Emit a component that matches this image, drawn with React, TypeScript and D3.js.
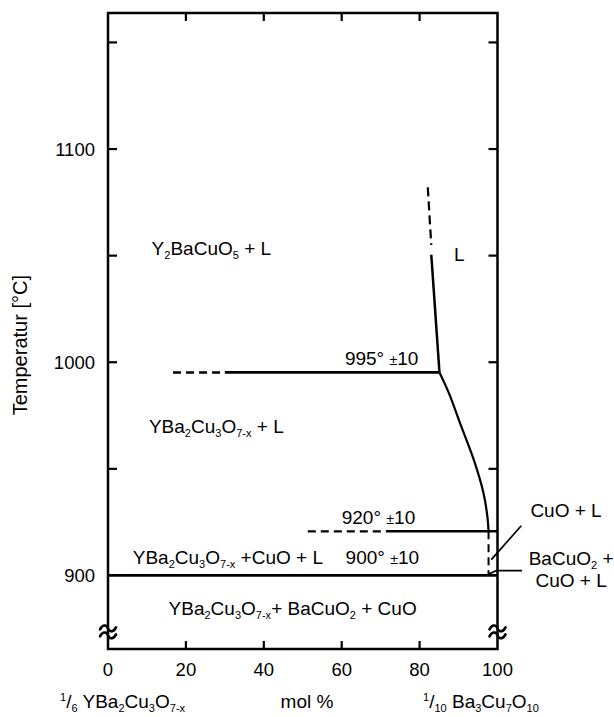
import React, { useEffect } from 'react'
import * as d3 from 'd3'

const width = 614
const height = 717
const margin = { top: 13, right: 116.5, bottom: 68, left: 108 }
const font = 'Liberation Sans, Arial, sans-serif'

// axis
const xTicks = [0, 20, 40, 60, 80, 100]
const innerXTicks = [20, 40, 60, 80]
const yTicks = [950, 1000, 1050, 1100, 1150]
const yTickLabels = [900, 1000, 1100]
const breakAt = 873.5

// phase boundaries (mol %, °C)
const liquidusDashed = [[82.1, 1082], [83.0, 1055]]
const liquidusSolid = [[83.0, 1050.4], [85.1, 995.2]]
const liquidusCurve = [
    [85.1, 995.2], [87.5, 985.6], [90.7, 969.9], [93.9, 954.3],
    [96.4, 938.7], [97.4, 927.7], [97.7, 920.7],
]
const iso995Dashed = [[16.7, 995.2], [30, 995.2]]
const iso995 = [[30, 995.2], [85.1, 995.2]]
const iso920Dashed = [[51.3, 920.7], [71.4, 920.7]]
const iso920 = [[71.4, 920.7], [100, 920.7]]
const iso900 = [[0, 900], [100, 900]]
const eutecticDashed = [[97.7, 920.7], [97.7, 900]]
const leaderCuO = [[106.1, 923.3], [98.4, 907.4]]
const leaderBaCuO2 = [[106.3, 902.3], [99.7, 902.3], [97.5, 900.4]]

// labels: text, x (mol %), T (°C), anchor
const labels = [
    ['Y_{2}BaCuO_{5} + L', 11.2, 1050.4, 'start'],
    ['L', 88.8, 1047.6, 'start'],
    ['995° ~{±}10', 79.7, 998.7, 'end'],
    ['YBa_{2}Cu_{3}O_{7-x} + L', 10.5, 966.8, 'start'],
    ['920° ~{±}10', 60.0, 924.2, 'start'],
    ['YBa_{2}Cu_{3}O_{7-x} +CuO + L', 55.2, 905.4, 'end'],
    ['900° ~{±}10', 61.0, 905.4, 'start'],
    ['YBa_{2}Cu_{3}O_{7-x}+ BaCuO_{2} + CuO', 47.4, 881.5, 'middle'],
    ['CuO + L', 117.6, 927.4, 'middle'],
    ['BaCuO_{2} +', 118.9, 904.8, 'middle'],
    ['CuO + L', 118.9, 894.4, 'middle'],
]

function parse(s) {
    const parts = []
    const re = /([_^~])\{([^}]*)\}/g
    let last = 0
    let m
    while ((m = re.exec(s))) {
        if (m.index > last) parts.push({ t: s.slice(last, m.index), k: '' })
        parts.push({ t: m[2], k: m[1] })
        last = re.lastIndex
    }
    if (last < s.length) parts.push({ t: s.slice(last), k: '' })
    return parts
}

function Rich({ text, ...props }) {
    let shift = 0
    return (
        <text fontFamily={font} fontSize={19} fill="#000" {...props}>
            {parse(text).map((p, i) => {
                const target = p.k === '_' ? 4 : p.k === '^' ? -7 : 0
                const dy = target - shift
                shift = target
                const size = p.k === '_' || p.k === '^' ? '0.58em' : p.k === '~' ? '0.75em' : undefined
                return (
                    <tspan key={i} dy={dy} fontSize={size}>
                        {p.t}
                    </tspan>
                )
            })}
        </text>
    )
}

// wavy "≈" break mark centered at (cx, cy)
function BreakMark({ cx, cy }) {
    const tilde = dy => `M${cx - 8},${cy + dy + 1} C${cx - 5},${cy + dy - 5} ${cx - 1},${cy + dy - 3} ${cx},${cy + dy} S${cx + 5},${cy + dy + 5} ${cx + 8},${cy + dy - 1}`
    return (
        <g fill="none" stroke="#000" strokeWidth={2.6} strokeLinecap="round">
            <path d={tilde(-3.5)} />
            <path d={tilde(3.5)} />
        </g>
    )
}

function App() {
    useEffect(() => {
        document.body.style.margin = '0'
    }, [])

    const x = d3.scaleLinear().domain([0, 100]).range([margin.left, width - margin.right])
    const y = d3.scaleLinear().domain([865.5, 1163.8]).range([height - margin.bottom, margin.top])
    const line = d3.line().x(d => x(d[0])).y(d => y(d[1]))
    const curve = d3.line().x(d => x(d[0])).y(d => y(d[1])).curve(d3.curveCatmullRom)

    const x0 = x(0)
    const x1 = x(100)
    const yTop = margin.top
    const yBot = height - margin.bottom

    return (
        <svg width={width} height={height} style={{ display: 'block' }}>
            <rect width={width} height={height} fill="#fff" />

            {/* frame */}
            <rect x={x0} y={yTop} width={x1 - x0} height={yBot - yTop} fill="none" stroke="#000" strokeWidth={2.5} />
            {yTicks.map(t => (
                <g key={t} stroke="#000" strokeWidth={2.2}>
                    <line x1={x0} x2={x0 + 9} y1={y(t)} y2={y(t)} />
                    <line x1={x1} x2={x1 - 9} y1={y(t)} y2={y(t)} />
                </g>
            ))}
            {innerXTicks.map(t => (
                <g key={t} stroke="#000" strokeWidth={2.2}>
                    <line x1={x(t)} x2={x(t)} y1={yTop} y2={yTop + 8} />
                    <line x1={x(t)} x2={x(t)} y1={yBot} y2={yBot - 8} />
                </g>
            ))}

            {/* axis break marks */}
            {[0, 100].map(v => (
                <BreakMark key={v} cx={x(v)} cy={y(breakAt)} />
            ))}

            {/* tick labels */}
            {xTicks.map(t => (
                <text key={t} x={x(t)} y={676} textAnchor="middle" fontFamily={font} fontSize={18.5}>{t}</text>
            ))}
            {yTickLabels.map(t => (
                <text key={t} x={95} y={y(t) + 6.5} textAnchor="end" fontFamily={font} fontSize={18.5}>{t}</text>
            ))}
            <text transform={`translate(27, ${y(1008)}) rotate(-90)`} textAnchor="middle" fontFamily={font} fontSize={20}>
                Temperatur [°C]
            </text>
            <Rich text="^{1}/_{6} YBa_{2}Cu_{3}O_{7-x}" x={60} y={708} />
            <Rich text="mol %" x={307} y={708} textAnchor="middle" />
            <Rich text="^{1}/_{10} Ba_{3}Cu_{7}O_{10}" x={423} y={708} />

            {/* phase lines */}
            <g fill="none" stroke="#000">
                <path d={line(liquidusDashed)} strokeWidth={2.2} strokeDasharray="9 5" />
                <path d={line(liquidusSolid)} strokeWidth={2.5} />
                <path d={curve(liquidusCurve)} strokeWidth={2.2} />
                <path d={line(iso995Dashed)} strokeWidth={2.5} strokeDasharray="8 5" />
                <path d={line(iso995)} strokeWidth={2.8} />
                <path d={line(iso920Dashed)} strokeWidth={2.2} strokeDasharray="8 5" />
                <path d={line(iso920)} strokeWidth={2.5} />
                <path d={line(iso900)} strokeWidth={2.8} />
                <path d={line(eutecticDashed)} strokeWidth={2} strokeDasharray="8 5" />
                <path d={line(leaderCuO)} strokeWidth={1.8} />
                <path d={line(leaderBaCuO2)} strokeWidth={1.8} />
            </g>

            {labels.map(([text, lx, ly, anchor], i) => (
                <Rich key={i} text={text} x={x(lx)} y={y(ly)} textAnchor={anchor} />
            ))}
        </svg>
    )
}

export default App
